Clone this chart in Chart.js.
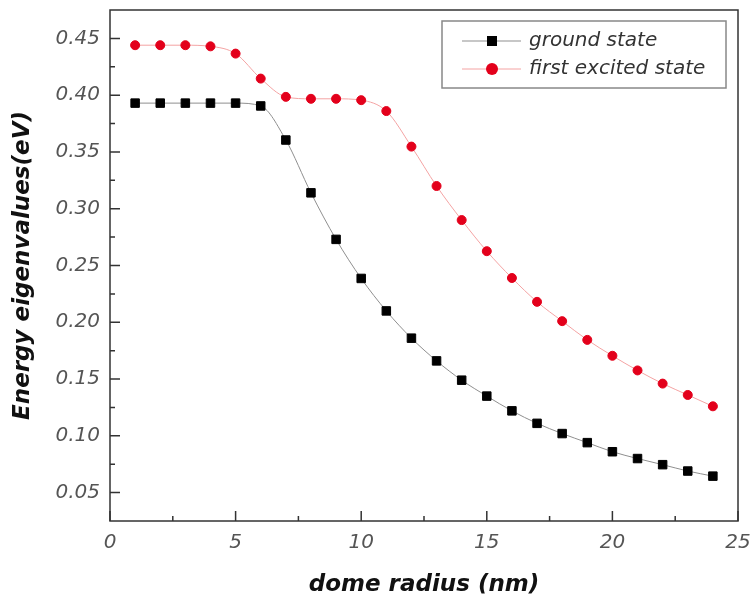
<!DOCTYPE html>
<html>
<head>
<meta charset="utf-8">
<script src="https://cdn.jsdelivr.net/npm/chart.js@4.4.1/dist/chart.umd.min.js"></script>
<style>
    html, body { margin: 0; padding: 0; background: #fff; }
    #wrap { width: 754px; height: 603px; }
</style>
</head>
<body>
<div id="wrap"><canvas id="chart" width="754" height="603"></canvas></div>
<script>
// dome radius (nm)
const radius = [1, 2, 3, 4, 5, 6, 7, 8, 9, 10, 11, 12, 13, 14, 15, 16, 17, 18, 19, 20, 21, 22, 23, 24]
// energy eigenvalues (eV)
const groundState = [0.393, 0.393, 0.393, 0.393, 0.393, 0.3905, 0.3605, 0.314, 0.273, 0.2386, 0.210, 0.186,
    0.166, 0.149, 0.135, 0.122, 0.111, 0.102, 0.094, 0.086, 0.080, 0.0746, 0.069, 0.0645]
const excitedState = [0.444, 0.444, 0.444, 0.443, 0.4366, 0.4146, 0.3985, 0.3968, 0.3968, 0.3956, 0.386, 0.3547,
    0.320, 0.290, 0.2626, 0.239, 0.218, 0.201, 0.1845, 0.1705, 0.1576, 0.146, 0.136, 0.126]

const xTicks = [0, 5, 10, 15, 20, 25]
const yTicks = [0.05, 0.10, 0.15, 0.20, 0.25, 0.30, 0.35, 0.40, 0.45]
const xMinor = [2.5, 7.5, 12.5, 17.5, 22.5]
const yMinor = [0.075, 0.125, 0.175, 0.225, 0.275, 0.325, 0.375, 0.425]

const tickFont = { family: "'DejaVu Sans'", size: 20, style: 'italic' }
const titleFont = { family: "'DejaVu Sans'", size: 23, style: 'italic', weight: 'bold' }

// Origin-style frame, inward ticks and a boxed legend
const framePlugin = {
    id: 'frame',
    afterDraw(chart){
        const {ctx, chartArea: a, scales} = chart
        const x = scales.x, y = scales.y
        ctx.save()
        ctx.strokeStyle = '#333'
        ctx.lineWidth = 1.5
        ctx.strokeRect(a.left, a.top, a.right - a.left, a.bottom - a.top)

        ctx.beginPath()
        xTicks.forEach(v => { const p = x.getPixelForValue(v); ctx.moveTo(p, a.bottom); ctx.lineTo(p, a.bottom - 10) })
        xMinor.forEach(v => { const p = x.getPixelForValue(v); ctx.moveTo(p, a.bottom); ctx.lineTo(p, a.bottom - 5) })
        yTicks.forEach(v => { const p = y.getPixelForValue(v); ctx.moveTo(a.left, p); ctx.lineTo(a.left + 10, p) })
        yMinor.forEach(v => { const p = y.getPixelForValue(v); ctx.moveTo(a.left, p); ctx.lineTo(a.left + 5, p) })
        ctx.stroke()

        // legend
        const bx = 442, by = 21, bw = 284, bh = 67
        ctx.strokeStyle = '#888'
        ctx.lineWidth = 1.5
        ctx.strokeRect(bx, by, bw, bh)
        ctx.font = "italic 20px 'DejaVu Sans'"
        ctx.textBaseline = 'middle'
        chart.data.datasets.forEach((ds, i) => {
            const ry = by + 20 + i * 28
            ctx.strokeStyle = ds.borderColor
            ctx.lineWidth = 1
            ctx.beginPath()
            ctx.moveTo(462, ry)
            ctx.lineTo(521, ry)
            ctx.stroke()
            ctx.fillStyle = ds.pointBackgroundColor
            if (ds.pointStyle === 'rect'){
                ctx.fillRect(487, ry - 5, 10, 10)
            } else {
                ctx.beginPath()
                ctx.arc(492, ry, 6, 0, Math.PI * 2)
                ctx.fill()
            }
            ctx.fillStyle = '#333'
            ctx.fillText(ds.label, 529, ry)
        })
        ctx.restore()
    }
}

const chart = new Chart(document.querySelector('#chart'), {
    type: 'line',
    data: {
        datasets: [
            {
                label: 'ground state',
                data: radius.map((r, i) => ({x: r, y: groundState[i]})),
                borderColor: '#8f8f8f',
                borderWidth: 1,
                pointStyle: 'rect',
                pointRadius: 6,
                pointBackgroundColor: '#000',
                pointBorderColor: '#000',
                pointBorderWidth: 1,
                cubicInterpolationMode: 'monotone'
            },
            {
                label: 'first excited state',
                data: radius.map((r, i) => ({x: r, y: excitedState[i]})),
                borderColor: '#f4a3a3',
                borderWidth: 1,
                pointStyle: 'circle',
                pointRadius: 4.5,
                pointBackgroundColor: '#e3001b',
                pointBorderColor: '#e3001b',
                pointBorderWidth: 1,
                cubicInterpolationMode: 'monotone'
            }
        ]
    },
    options: {
        responsive: false,
        animation: false,
        layout: { padding: { left: 0, right: 16, top: 10, bottom: 0 } },
        plugins: { legend: { display: false }, tooltip: { enabled: false } },
        scales: {
            x: {
                type: 'linear',
                min: 0,
                max: 25,
                afterBuildTicks: s => { s.ticks = xTicks.map(v => ({value: v})) },
                afterFit: s => { s.height = 82; s.paddingLeft = 0; s.paddingRight = 0 },
                grid: { display: false, drawTicks: false },
                border: { display: false },
                ticks: { font: tickFont, color: '#555', padding: 10, callback: v => String(v) },
                title: { display: true, text: 'dome radius (nm)', font: titleFont, color: '#111', padding: { bottom: 4 } }
            },
            y: {
                type: 'linear',
                min: 0.025,
                max: 0.475,
                afterBuildTicks: s => { s.ticks = yTicks.map(v => ({value: v})) },
                afterFit: s => { s.width = 110; s.paddingTop = 0; s.paddingBottom = 0 },
                grid: { display: false, drawTicks: false },
                border: { display: false },
                ticks: { font: tickFont, color: '#555', padding: 10, callback: v => v.toFixed(2) },
                title: { display: true, text: 'Energy eigenvalues(eV)', font: titleFont, color: '#111', padding: { top: 9 } }
            }
        }
    },
    plugins: [framePlugin]
})
</script>
</body>
</html>
